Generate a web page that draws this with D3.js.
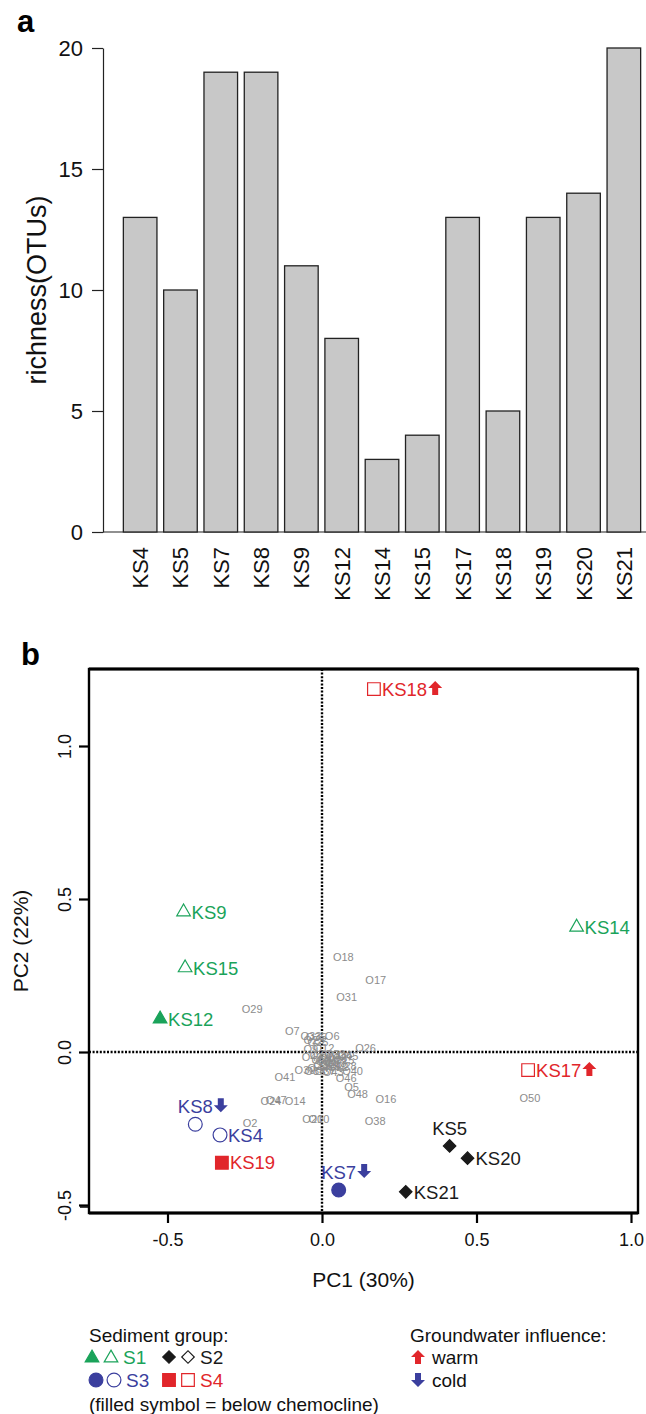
<!DOCTYPE html>
<html>
<head>
<meta charset="utf-8">
<script src="https://cdn.jsdelivr.net/npm/d3@7"></script>
<style>
  body { margin: 0; background: #fff; }
  svg { display: block; font-family: "Liberation Sans", Arial, Helvetica, sans-serif; }
</style>
</head>
<body>
<svg id="chart"></svg>
<script>
// panel a — richness per sample
const categories = ['KS4', 'KS5', 'KS7', 'KS8', 'KS9', 'KS12', 'KS14', 'KS15', 'KS17', 'KS18', 'KS19', 'KS20', 'KS21'];
const richness = [13, 10, 19, 19, 11, 8, 3, 4, 13, 5, 13, 14, 20];
const richnessTicks = [0, 5, 10, 15, 20];

// panel b — PCA sample scores
const samples = ['KS4', 'KS5', 'KS7', 'KS8', 'KS9', 'KS12', 'KS14', 'KS15', 'KS17', 'KS18', 'KS19', 'KS20', 'KS21'];
const samplePC1 = [-0.330, 0.413, 0.054, -0.410, -0.448, -0.524, 0.824, -0.443, 0.667, 0.168, -0.324, 0.471, 0.271];
const samplePC2 = [-0.271, -0.307, -0.451, -0.236, 0.458, 0.108, 0.408, 0.275, -0.059, 1.186, -0.362, -0.347, -0.457];
const sampleGroup = ['S3', 'S2', 'S3', 'S3', 'S1', 'S1', 'S1', 'S1', 'S4', 'S4', 'S4', 'S2', 'S2'];
const sampleFilled = [false, true, true, false, false, true, false, false, false, false, true, true, true];
const sampleWater = ['', '', 'cold', 'cold', '', '', '', '', 'warm', 'warm', '', '', ''];
const labelSide = ['right', 'top', 'top', 'top', 'right', 'right', 'right', 'right', 'right', 'right', 'right', 'right', 'right'];

// panel b — OTU scores
const otuNames = ['O18', 'O17', 'O31', 'O29', 'O7', 'O6', 'O26', 'O40', 'O41', 'O46', 'O5', 'O48', 'O16', 'O38', 'O50',
  'O14', 'O47', 'O24', 'O2', 'O20', 'O10',
  'O33', 'O35', 'O23', 'O25', 'O12', 'O9', 'O32', 'O49', 'O42', 'O45', 'O1', 'O4', 'O8', 'O36', 'O27', 'O11', 'O13',
  'O15', 'O30', 'O19', 'O22', 'O28', 'O44', 'O39', 'O34', 'O37', 'O43', 'O3', 'O21'];
const otuPC1 = [0.069, 0.174, 0.080, -0.226, -0.096, 0.033, 0.141, 0.099, -0.120, 0.078, 0.096, 0.115, 0.207, 0.172, 0.673,
  -0.087, -0.148, -0.165, -0.233, -0.030, -0.010,
  -0.036, -0.019, -0.026, -0.013, 0.006, -0.036, 0.042, -0.006, -0.032, 0.084, 0.013, 0.036, 0.058, 0.065, 0.000, 0.019, 0.045,
  0.071, 0.006, 0.026, 0.052, 0.078, -0.013, -0.055, -0.023, 0.010, 0.036, 0.003, 0.030];
const otuPC2 = [0.311, 0.235, 0.181, 0.139, 0.070, 0.052, 0.012, -0.061, -0.081, -0.085, -0.113, -0.138, -0.154, -0.225, -0.151,
  -0.160, -0.158, -0.160, -0.231, -0.220, -0.220,
  0.052, 0.049, 0.039, 0.033, 0.013, 0.010, -0.007, -0.010, -0.016, -0.013, -0.020, -0.016, -0.020, -0.010, -0.026, -0.033, -0.036,
  -0.026, -0.042, -0.046, -0.049, -0.046, -0.052, -0.059, -0.062, -0.062, -0.065, -0.030, -0.040];

const axisTicksB = [-0.5, 0.0, 0.5, 1.0];

const groupColor = { S1: '#1aa35a', S2: '#1a1a1a', S3: '#3b3f9e', S4: '#e1262b' };
const groupShape = { S1: 'triangle', S2: 'diamond', S3: 'circle', S4: 'square' };
const waterColor = { warm: '#e1262b', cold: '#3b3f9e' };

const W = 646, H = 1414;
const font = '"Liberation Sans", Arial, Helvetica, sans-serif';
const svg = d3.select('#chart').attr('width', W).attr('height', H).attr('viewBox', `0 0 ${W} ${H}`);

function symbolPath(shape) {
  if (shape === 'triangle') return d3.symbol(d3.symbolTriangle, 80)();
  if (shape === 'circle') return d3.symbol(d3.symbolCircle, 150)();
  if (shape === 'square') return d3.symbol(d3.symbolSquare, 160)();
  return d3.symbol(d3.symbolSquare, 78)();
}

function drawSymbol(parent, shape, color, filled, cx, cy) {
  parent.append('path')
    .attr('d', symbolPath(shape))
    .attr('transform', `translate(${cx},${cy})${shape === 'diamond' ? ' rotate(45)' : ''}`)
    .attr('fill', filled ? color : 'none')
    .attr('stroke', color)
    .attr('stroke-width', 1.2);
}

function drawArrow(parent, dir, cx, cy) {
  const s = dir === 'warm' ? 1 : -1;
  const p = d3.path();
  p.moveTo(0, -7 * s); p.lineTo(7, 0); p.lineTo(3, 0); p.lineTo(3, 7 * s);
  p.lineTo(-3, 7 * s); p.lineTo(-3, 0); p.lineTo(-7, 0); p.closePath();
  parent.append('path').attr('d', p.toString())
    .attr('transform', `translate(${cx},${cy})`)
    .attr('fill', waterColor[dir]);
}

// ---------- panel a ----------
const ga = svg.append('g');

ga.append('text').attr('x', 17).attr('y', 32)
  .attr('font-size', '31px').attr('font-weight', '700').text('a');

const xA = d3.scaleBand().domain(categories).range([120, 644]).paddingInner(0.1667).paddingOuter(0.0833);
const yA = d3.scaleLinear().domain([0, 20]).range([532, 48]);

// baseline
ga.append('line')
  .attr('x1', 103).attr('x2', W).attr('y1', yA(0)).attr('y2', yA(0))
  .attr('stroke', '#222').attr('stroke-width', 1.2);

ga.selectAll('rect.bar')
  .data(categories)
  .join('rect')
  .attr('class', 'bar')
  .attr('x', d => xA(d))
  .attr('y', (d, i) => yA(richness[i]))
  .attr('width', xA.bandwidth())
  .attr('height', (d, i) => yA(0) - yA(richness[i]))
  .attr('fill', '#c8c8c8')
  .attr('stroke', '#222')
  .attr('stroke-width', 1.3);

const axA = ga.append('g')
  .attr('transform', 'translate(103,0)')
  .call(d3.axisLeft(yA).tickValues(richnessTicks).tickSize(11).tickSizeOuter(0).tickPadding(9));
axA.selectAll('path, line').attr('stroke', '#222').attr('stroke-width', 1.2);
axA.selectAll('text').attr('font-size', '22px').attr('font-family', font).attr('fill', '#111');

ga.selectAll('text.cat')
  .data(categories)
  .join('text')
  .attr('class', 'cat')
  .attr('transform', d => `translate(${xA(d) + xA.bandwidth() / 2 + 8},547) rotate(-90)`)
  .attr('text-anchor', 'end')
  .attr('font-size', '22px')
  .attr('fill', '#111')
  .text(d => d);

ga.append('text')
  .attr('transform', `translate(46,${yA(10)}) rotate(-90)`)
  .attr('text-anchor', 'middle')
  .attr('font-size', '27px')
  .attr('fill', '#111')
  .text('richness(OTUs)');

// ---------- panel b ----------
const gb = svg.append('g');

gb.append('text').attr('x', 21).attr('y', 665)
  .attr('font-size', '31px').attr('font-weight', '700').text('b');

const xB = d3.scaleLinear().domain([-0.5, 1.0]).range([167.5, 631]);
const yB = d3.scaleLinear().domain([-0.5, 1.0]).range([1205, 746]);
const box = { left: 89, right: 638, top: 669, bottom: 1213 };

// zero lines
gb.append('line')
  .attr('x1', xB(0)).attr('x2', xB(0)).attr('y1', box.top).attr('y2', box.bottom)
  .attr('stroke', '#000').attr('stroke-width', 2.4).attr('stroke-dasharray', '2,1.6');
gb.append('line')
  .attr('x1', box.left).attr('x2', box.right).attr('y1', yB(0)).attr('y2', yB(0))
  .attr('stroke', '#000').attr('stroke-width', 2.4).attr('stroke-dasharray', '2,1.6');

// frame
gb.append('rect')
  .attr('x', box.left).attr('y', box.top)
  .attr('width', box.right - box.left).attr('height', box.bottom - box.top)
  .attr('fill', 'none').attr('stroke', '#000').attr('stroke-width', 2.4);
gb.append('line')
  .attr('x1', box.left).attr('x2', box.right).attr('y1', box.bottom).attr('y2', box.bottom)
  .attr('stroke', '#000').attr('stroke-width', 3.2);
gb.append('line')
  .attr('x1', box.left).attr('x2', box.right).attr('y1', box.top).attr('y2', box.top)
  .attr('stroke', '#000').attr('stroke-width', 3);
// small stub left of the lower-left corner
gb.append('line')
  .attr('x1', box.left - 9).attr('x2', box.left).attr('y1', box.bottom - 6).attr('y2', box.bottom - 6)
  .attr('stroke', '#000').attr('stroke-width', 1.5);

// x axis
const axX = gb.append('g')
  .attr('transform', `translate(0,${box.bottom})`)
  .call(d3.axisBottom(xB).tickValues(axisTicksB).tickFormat(d => d.toFixed(1)).tickSize(10).tickSizeOuter(0).tickPadding(10));
axX.select('.domain').remove();
axX.selectAll('line').attr('stroke', '#000').attr('stroke-width', 2.2);
axX.selectAll('text').attr('font-size', '18px').attr('font-family', font).attr('fill', '#111');

// y axis
const axY = gb.append('g')
  .attr('transform', `translate(${box.left},0)`)
  .call(d3.axisLeft(yB).tickValues(axisTicksB).tickFormat(d => d.toFixed(1)).tickSize(10).tickSizeOuter(0));
axY.select('.domain').remove();
axY.selectAll('line').attr('stroke', '#000').attr('stroke-width', 2.2);
axY.selectAll('text')
  .attr('x', null).attr('dy', null)
  .attr('transform', 'translate(-18,0) rotate(-90)')
  .attr('text-anchor', 'middle')
  .attr('font-size', '18px').attr('font-family', font).attr('fill', '#111');

gb.append('text')
  .attr('x', (box.left + box.right) / 2).attr('y', 1287)
  .attr('text-anchor', 'middle').attr('font-size', '21px').attr('fill', '#111')
  .text('PC1 (30%)');
gb.append('text')
  .attr('transform', `translate(28,${(box.top + box.bottom) / 2}) rotate(-90)`)
  .attr('text-anchor', 'middle').attr('font-size', '21px').attr('fill', '#111')
  .text('PC2 (22%)');

// OTU labels
gb.selectAll('text.otu')
  .data(otuNames)
  .join('text')
  .attr('class', 'otu')
  .attr('x', (d, i) => xB(otuPC1[i]))
  .attr('y', (d, i) => yB(otuPC2[i]))
  .attr('dy', '0.36em')
  .attr('text-anchor', 'middle')
  .attr('font-size', '11px')
  .attr('fill', '#8c8c8c')
  .text(d => d);

// sample points
samples.forEach((name, i) => {
  const cx = xB(samplePC1[i]), cy = yB(samplePC2[i]);
  const grp = sampleGroup[i];
  const color = groupColor[grp];
  const shape = groupShape[grp];
  drawSymbol(gb, shape, color, sampleFilled[i], cx, cy);

  const label = gb.append('text')
    .attr('font-size', '18.5px')
    .attr('fill', color)
    .text(name);
  if (labelSide[i] === 'right') {
    label.attr('x', cx + 8).attr('y', cy).attr('dy', '0.36em');
  } else {
    label.attr('x', cx).attr('y', cy - 18).attr('dy', '0.36em').attr('text-anchor', 'middle');
  }
  if (sampleWater[i]) {
    const bb = label.node().getBBox();
    drawArrow(gb, sampleWater[i], bb.x + bb.width + 8, labelSide[i] === 'right' ? cy - 1 : cy - 19);
  }
});

// ---------- legend ----------
const lg = svg.append('g').attr('font-size', '19px');
lg.append('text').attr('x', 89).attr('y', 1342).attr('fill', '#111').text('Sediment group:');

const legendRows = [
  { grp: 'S1', x: 92, y: 1357 }, { grp: 'S2', x: 169, y: 1357 },
  { grp: 'S3', x: 96, y: 1380 }, { grp: 'S4', x: 169, y: 1380 }
];
legendRows.forEach(r => {
  const c = groupColor[r.grp], sh = groupShape[r.grp];
  const shift = r.grp === 'S3' ? 18 : 19;
  drawSymbol(lg, sh, c, true, r.x, r.y + (sh === 'triangle' ? 1 : 0));
  drawSymbol(lg, sh, c, false, r.x + shift, r.y + (sh === 'triangle' ? 1 : 0));
  lg.append('text').attr('x', r.x + shift + 12).attr('y', r.y).attr('dy', '0.36em')
    .attr('fill', c).text(r.grp);
});
lg.append('text').attr('x', 89).attr('y', 1411).attr('fill', '#111').text('(filled symbol = below chemocline)');

lg.append('text').attr('x', 410).attr('y', 1342).attr('fill', '#111').text('Groundwater influence:');
drawArrow(lg, 'warm', 418, 1357);
lg.append('text').attr('x', 432).attr('y', 1357).attr('dy', '0.36em').attr('fill', '#111').text('warm');
drawArrow(lg, 'cold', 418, 1380);
lg.append('text').attr('x', 432).attr('y', 1380).attr('dy', '0.36em').attr('fill', '#111').text('cold');
</script>
</body>
</html>
